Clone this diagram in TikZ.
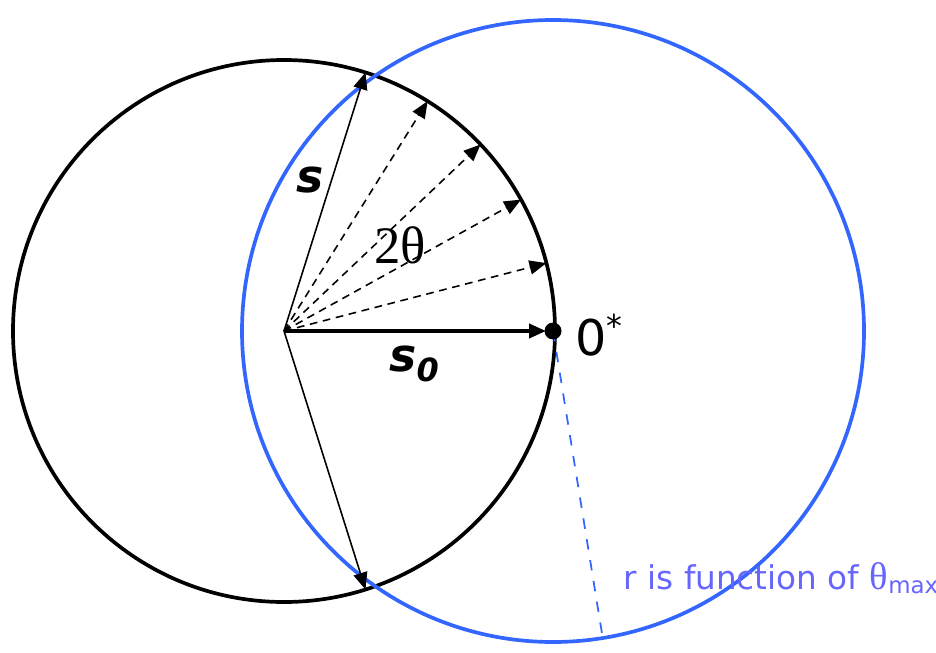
\documentclass[tikz,border=0pt]{standalone}
\usepackage{fontspec}
\setmainfont{DejaVu Sans}
\newfontfamily\greekserif{Liberation Serif}
\usetikzlibrary{arrows.meta}
\definecolor{ringblue}{RGB}{51,102,255}
\definecolor{noteblue}{RGB}{102,102,255}

\begin{document}
\begin{tikzpicture}[
    vec/.style={-{Triangle[length=4.8pt,width=4pt]}, line width=0.45pt},
    dashvec/.style={vec, dash pattern=on 2.2pt off 1.6pt},
    ]
    \useasboundingbox (0,0) rectangle (9.36,6.52);

    % Centres
    \coordinate (O) at (2.84,3.21);
    \coordinate (Q) at (5.53,3.21);

    % Circles
    \draw[line width=1.05pt] (O) circle (2.71);
    \draw[ringblue, line width=1.05pt] (Q) circle (3.11);

    % Radius r (dashed)
    \coordinate (rim) at ([shift={(-80.8:3.11)}]Q);
    \draw[ringblue, dashed, line width=0.5pt] (Q) -- (rim);

    % Vectors
    \coordinate (top) at ([shift={(72.5:2.71)}]O);
    \coordinate (bot) at ([shift={(-72.5:2.71)}]O);
    \draw[vec] (O) -- (top);
    \draw[vec] (O) -- (bot);
    \foreach \a [count=\i] in {14.5,29,43.5,58} {
        \coordinate (d\i) at ([shift={(\a:2.71)}]O);
        \draw[dashvec] (O) -- (d\i);
    }
    \draw[vec, line width=1pt, shorten >=2pt] (O) -- (Q);
    \fill (Q) circle (0.085);

    % Labels
    \node (slab) at (3.10,4.72) {\fontsize{13}{15}\selectfont\bfseries\itshape s};
    \node (twotheta) at (4.00,4.07) {\greekserif\fontsize{15}{18}\selectfont 2θ};
    \node (s0lab) at (4.15,2.88) {\fontsize{13}{15}\selectfont\bfseries\itshape s\textsubscript{0}};
    \node[anchor=west] (zero) at (5.63,3.17) {\fontsize{14}{16}\selectfont 0\textsuperscript{\fontsize{9}{10}\selectfont *}};
    \node[anchor=west, text=noteblue, inner sep=0pt] (note) at (6.23,0.74)
        {\fontsize{9.3}{11}\selectfont r is function of {\greekserif\fontsize{11}{12}\selectfont θ}\textsubscript{max}};
\end{tikzpicture}
\end{document}
